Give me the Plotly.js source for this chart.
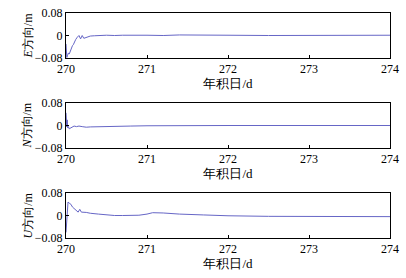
<!DOCTYPE html>
<html><head><meta charset="utf-8">
<script src="https://cdn.plot.ly/plotly-3.0.1.min.js"></script>
<style>html,body{margin:0;padding:0;background:#fff;}#c{width:406px;height:278px;}</style>
</head><body><div id="c"></div>
<script>
const xTicks = [270, 271, 272, 273, 274];
const yTicks = [-0.08, 0, 0.08];
const yTickLabels = ['\u22120.08', '0', '0.08'];
const xTitle = '年积日/d';

const eDay = [270.000,270.005,270.010,270.020,270.030,270.040,270.050,270.060,270.070,270.080,270.090,270.100,270.110,270.120,270.140,270.160,270.180,270.200,270.220,270.240,270.260,270.300,270.350,270.400,270.500,270.600,270.700,271.000,271.200,271.400,271.600,272.000,272.500,273.000,273.500,274.000];
const eVal = [-0.030,-0.055,-0.078,-0.070,-0.062,-0.066,-0.057,-0.050,-0.043,-0.036,-0.033,-0.025,-0.018,-0.014,-0.006,0.000,-0.012,0.000,-0.010,-0.008,-0.006,-0.002,-0.001,0.000,0.001,0.000,0.001,0.001,0.000,0.002,0.001,0.001,0.000,0.001,0.000,0.001];

const nDay = [270.000,270.005,270.010,270.015,270.020,270.030,270.040,270.050,270.070,270.100,270.130,270.160,270.200,270.250,270.300,270.400,270.600,270.800,271.000,271.500,272.000,273.000,274.000];
const nVal = [0.045,0.010,-0.005,0.020,-0.008,-0.004,-0.012,-0.010,-0.006,-0.002,-0.004,-0.002,-0.004,-0.006,-0.005,-0.004,-0.003,-0.002,-0.001,0.000,0.000,0.000,0.000];

const uDay = [270.000,270.005,270.010,270.015,270.025,270.040,270.060,270.080,270.100,270.130,270.150,270.170,270.190,270.250,270.300,270.400,270.500,270.600,270.700,270.800,270.900,271.000,271.070,271.200,271.400,271.700,272.000,272.500,273.000,273.500,274.000];
const uVal = [-0.060,-0.030,-0.020,0.040,0.048,0.044,0.040,0.030,0.025,0.016,0.012,0.022,0.012,0.011,0.008,0.005,0.002,0.000,0.000,0.000,0.001,0.005,0.010,0.009,0.005,0.002,-0.001,-0.003,-0.004,-0.004,-0.004];

const panels = [
  {day: eDay, val: eVal, label: '<i>E</i>方向/m'},
  {day: nDay, val: nVal, label: '<i>N</i>方向/m'},
  {day: uDay, val: uVal, label: '<i>U</i>方向/m'}
];

const H = 278, L = 66, R = 16;
const pix = [[13,58],[103,148],[193,238]];
const font = {family: 'Liberation Serif, Times New Roman, DejaVu Serif, serif', size: 12, color: '#000'};
const traces = [];
const annotations = [];
const layout = {
  width: 406, height: H,
  margin: {l: L, r: R, t: 0, b: 0},
  paper_bgcolor: '#fff', plot_bgcolor: '#fff',
  showlegend: false, font: font, annotations: annotations
};
panels.forEach((p, i) => {
  const s = i === 0 ? '' : String(i + 1);
  const dom = [1 - pix[i][1] / H, 1 - pix[i][0] / H];
  traces.push({x: p.day, y: p.val, type: 'scatter', mode: 'lines',
    line: {color: '#6666c6', width: 1}, xaxis: 'x' + s, yaxis: 'y' + s});
  layout['xaxis' + s] = {
    domain: [0, 1], anchor: 'y' + s, range: [270, 274],
    tickvals: xTicks, ticktext: xTicks.map(String),
    ticks: 'inside', ticklen: 3, tickcolor: '#000',
    showline: true, linecolor: '#000', linewidth: 1, mirror: true,
    showgrid: false, zeroline: false,
    tickfont: font,
    title: {text: xTitle, font: Object.assign({}, font, {size: 13}), standoff: 2}
  };
  layout['yaxis' + s] = {
    domain: dom, anchor: 'x' + s,
    range: [-0.08, 0.08], tickvals: yTicks, ticktext: yTickLabels,
    ticks: 'inside', ticklen: 3, tickcolor: '#000',
    showline: true, linecolor: '#000', linewidth: 1, mirror: true,
    showgrid: false, zeroline: false,
    tickfont: font
  };
  annotations.push({
    text: p.label, xref: 'paper', yref: 'paper',
    x: (27 - L) / (406 - L - R), y: (dom[0] + dom[1]) / 2,
    xanchor: 'center', yanchor: 'middle', textangle: -90, showarrow: false,
    font: Object.assign({}, font, {size: 12})
  });
});
Plotly.newPlot('c', traces, layout, {staticPlot: true, displayModeBar: false});
</script></body></html>
